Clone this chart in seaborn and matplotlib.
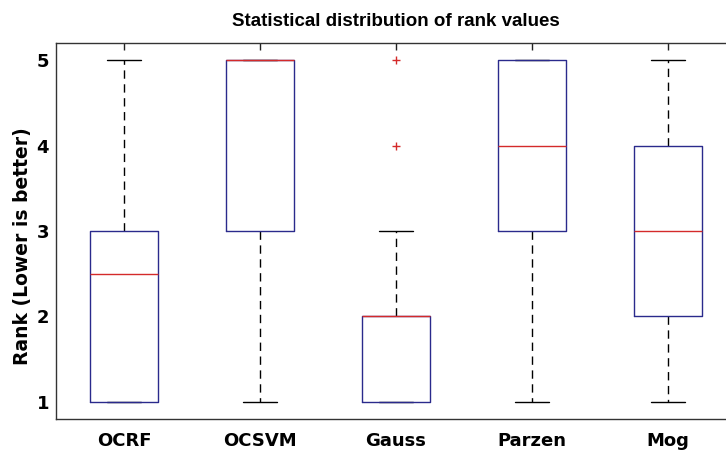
import pandas as pd
import seaborn as sns
import matplotlib.pyplot as plt

# rank values per method
methods = ["OCRF", "OCSVM", "Gauss", "Parzen", "Mog"]
ocrf_ranks = [1, 1, 1, 2, 3, 3, 3, 5]
ocsvm_ranks = [1, 3, 3, 5, 5, 5, 5, 5]
gauss_ranks = [1, 1, 1, 1, 1, 1, 2, 2, 2, 2, 3, 4, 5]
parzen_ranks = [1, 3, 3, 4, 4, 5, 5, 5, 5]
mog_ranks = [1, 2, 2, 3, 3, 4, 4, 5]

rank_lists = [ocrf_ranks, ocsvm_ranks, gauss_ranks, parzen_ranks, mog_ranks]
df = pd.DataFrame(
    [(m, r) for m, ranks in zip(methods, rank_lists) for r in ranks],
    columns=["method", "rank"],
)

sns.set_style("white")
plt.rcParams["font.family"] = ["DejaVu Sans"]

fig = plt.figure(figsize=(7.26, 4.51), dpi=100)
ax = fig.add_axes([56 / 726, 32 / 451, 680 / 726, 376 / 451])

box_blue = "#2a2a8c"
med_red = "#d42a2a"
sns.boxplot(
    data=df, x="method", y="rank", order=methods, ax=ax,
    width=0.5, whis=1.5, fill=False, linewidth=1.0,
    boxprops={"color": box_blue, "zorder": 2.2},
    medianprops={"color": med_red, "zorder": 2.3},
    whiskerprops={"color": "black", "linestyle": (0, (6, 4)), "zorder": 1.8},
    capprops={"color": "black", "zorder": 1.8},
    flierprops={"marker": "+", "markeredgecolor": med_red, "markersize": 6,
                "markeredgewidth": 1.0},
)

ax.set_xlim(-0.5, 4.5)
ax.set_ylim(0.8, 5.2)
ax.set_yticks([1, 2, 3, 4, 5])
ax.set_xlabel("")
ax.set_ylabel("Rank (Lower is better)", fontsize=13.5, fontweight="bold",
              color="black")
ax.yaxis.set_label_coords(-0.036, 0.46)
ax.set_title("Statistical distribution of rank values", fontsize=13.5,
             fontweight="bold", pad=12, color="black",
             family=["Liberation Sans", "DejaVu Sans"])

ax.tick_params(direction="in", length=5, width=1, top=True, right=True,
               labelsize=13, colors="#222222")
ax.tick_params(axis="x", pad=9)
ax.tick_params(axis="y", pad=5)
for lbl in ax.get_xticklabels() + ax.get_yticklabels():
    lbl.set_fontweight("bold")
    lbl.set_color("black")
for sp in ax.spines.values():
    sp.set_visible(True)
    sp.set_color("#333333")
    sp.set_linewidth(1.0)

fig.savefig("out.png", dpi=100)
